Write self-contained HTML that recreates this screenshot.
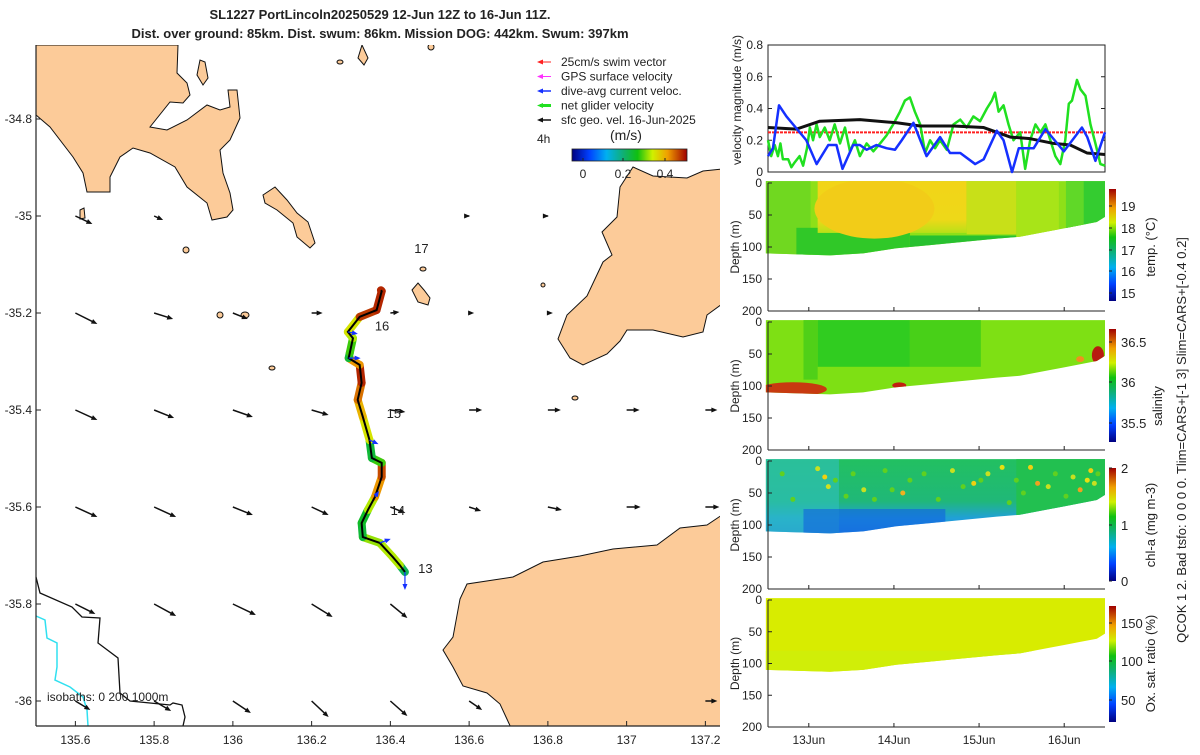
<!DOCTYPE html>
<html><head><meta charset="utf-8">
<style>
body{margin:0;background:#fff;}
svg text{font-family:"Liberation Sans",sans-serif;fill:#222;}
</style></head>
<body>
<svg id="c" width="1200" height="750" xmlns="http://www.w3.org/2000/svg">
<defs>
<linearGradient id="jetv" x1="0" y1="1" x2="0" y2="0">
<stop offset="0" stop-color="#000080"/><stop offset="0.15" stop-color="#0040ff"/><stop offset="0.3" stop-color="#00b0f0"/><stop offset="0.45" stop-color="#10b070"/><stop offset="0.57" stop-color="#10c010"/><stop offset="0.7" stop-color="#d0f000"/><stop offset="0.83" stop-color="#f0a000"/><stop offset="1" stop-color="#a00000"/>
</linearGradient>
<linearGradient id="jeth" x1="0" y1="0" x2="1" y2="0">
<stop offset="0" stop-color="#000080"/><stop offset="0.15" stop-color="#0040ff"/><stop offset="0.3" stop-color="#00b0f0"/><stop offset="0.45" stop-color="#10b070"/><stop offset="0.57" stop-color="#10c010"/><stop offset="0.7" stop-color="#d0f000"/><stop offset="0.83" stop-color="#f0a000"/><stop offset="1" stop-color="#a00000"/>
</linearGradient>
<linearGradient id="tempYel" x1="0" y1="0" x2="0" y2="1">
<stop offset="0" stop-color="#f2d418"/><stop offset="0.75" stop-color="#eed818"/><stop offset="1" stop-color="#b8e018"/>
</linearGradient>
<linearGradient id="chlGrad" x1="0" y1="0" x2="0" y2="1">
<stop offset="0" stop-color="#22c060"/><stop offset="0.5" stop-color="#20b878"/><stop offset="0.7" stop-color="#20a0d8"/><stop offset="1" stop-color="#1e78e8"/>
</linearGradient>
<clipPath id="mapclip"><rect x="36" y="45" width="684" height="681"/></clipPath>
</defs>
<text x="380" y="19" text-anchor="middle" font-size="13" font-weight="bold">SL1227 PortLincoln20250529 12-Jun 12Z to 16-Jun 11Z.</text>
<text x="380" y="38" text-anchor="middle" font-size="13" font-weight="bold">Dist. over ground: 85km. Dist. swum: 86km. Mission DOG: 442km. Swum: 397km</text>
<g id="map"></g>
<g id="vel"></g>
<g id="sec"></g>
</svg>
<script>
const NS="http://www.w3.org/2000/svg";
// ---------- data ----------
const lonTicks=[135.6,135.8,136,136.2,136.4,136.6,136.8,137,137.2];
const latTicks=[-34.8,-35,-35.2,-35.4,-35.6,-35.8,-36];
const arrowLons=[135.6,135.8,136.0,136.2,136.4,136.6,136.8,137.0,137.2];
const arrowLats=[-35,-35.2,-35.4,-35.6,-35.8,-36];
const arrowU=[[17,9,0,0,0,1,1,0,0],[22,19,15,11,9,5,5,0,0],[22,20,20,17,15,13,13,13,12],[22,22,20,17,15,12,14,14,14],[20,22,23,21,17,0,0,0,0],[15,17,18,17,17,13,0,0,12]];
const arrowV=[[8,4,0,0,0,0,0,0,0],[11,6,6,0,-1,0,0,0,0],[10,8,7,5,2,0,0,0,0],[10,10,8,8,6,4,3,0,0],[10,12,11,13,14,0,0,0,0],[9,10,12,16,15,9,0,0,0]];
const trackLon=[136.437,136.424,136.406,136.373,136.330,136.327,136.343,136.361,136.378,136.378,136.353,136.347,136.330,136.317,136.327,136.322,136.294,136.297,136.305,136.292,136.322,136.365,136.378,136.376];
const trackLat=[-35.734,-35.720,-35.703,-35.674,-35.662,-35.633,-35.606,-35.579,-35.538,-35.509,-35.499,-35.462,-35.414,-35.379,-35.344,-35.307,-35.293,-35.282,-35.252,-35.239,-35.208,-35.194,-35.155,-35.153];
const trackSpd=[0.24,0.34,0.34,0.33,0.26,0.27,0.34,0.42,0.46,0.3,0.26,0.36,0.4,0.44,0.48,0.42,0.26,0.3,0.34,0.36,0.47,0.48,0.48,0.22];
const dayLabels=["13","14","15","16","17"];
const dayLon=[136.44,136.37,136.36,136.33,136.43];
const dayLat=[-35.73,-35.61,-35.41,-35.23,-35.07];
// velocity panel
const velTicks=[0,0.2,0.4,0.6,0.8];
const blueH=[0,1.4,3.1,5.2,10.8,13.7,17,19.3,21,24,25.9,27.8,30.6,33.4,35.8,37.7,41,44.7,48.5,51.3,54.2,58.4,60.8,64.5,66.4,68.8,70.7,73,74.9,78.2,83.4,88.5,90,92.3,95];
const blueV=[0.1,0.15,0.42,0.35,0.2,0.05,0.17,0.17,0.02,0.17,0.17,0.14,0.17,0.15,0.14,0.2,0.31,0.1,0.22,0.12,0.12,0.05,0.08,0.26,0.2,0.0,0.15,0.15,0.15,0.27,0.13,0.28,0.22,0.07,0.25];
const greenH=[0,0.9,1.9,2.8,3.5,4.2,5.7,6.6,7.5,8.9,9.9,11,11.8,12.7,13.7,14.6,16,17.4,18.8,20.3,21.7,23.1,24.5,25.9,27.8,29.7,31.6,33.4,35.3,37.2,38.6,40,41.4,42.9,44.3,45.7,47.1,48.5,50.4,52.3,54.2,56,57.9,59.8,61.7,63.1,64,65,66.4,67.8,69.2,71.1,72.5,73.9,75.4,76.8,78.2,79.6,81,82.4,83.8,84.8,85.7,87.1,88.1,89.5,90.9,92.3,93.7,95];
const greenV=[0.2,0.1,0.17,0.1,0.18,0.08,0.08,0.03,0.06,0.1,0.04,0.15,0.28,0.2,0.3,0.22,0.28,0.2,0.3,0.18,0.28,0.13,0.2,0.1,0.18,0.13,0.18,0.23,0.3,0.38,0.45,0.47,0.38,0.3,0.12,0.2,0.15,0.2,0.14,0.3,0.33,0.28,0.35,0.32,0.4,0.45,0.5,0.38,0.42,0.3,0.2,0.25,0.02,0.2,0.3,0.25,0.3,0.2,0.1,0.05,0.2,0.43,0.45,0.58,0.52,0.48,0.3,0.18,0.05,0.04];
const blackH=[0,8,14.6,25.9,36.3,42.9,52.3,60.8,68.3,73.9,80.5,85.2,89.9,95];
const blackV=[0.28,0.27,0.32,0.33,0.31,0.29,0.29,0.28,0.22,0.21,0.18,0.17,0.12,0.11];
const swimV=0.25;
// sections
const dayTickH=[11.5,35.5,59.5,83.5];
const dayTickLbl=["13Jun","14Jun","15Jun","16Jun"];
const depthTicks=[0,50,100,150,200];
const bottomH=[-0.6,17.5,26.8,36.2,45.7,55.1,64.5,71,78.6,83.3,88,92.7,95];
const bottomD=[110,113,110,102,97,92,87,84,76,71,66,61,53];
const chlDotH=[4,14,16,17,19,24,27,30,33,38,40,44,52,55,58,62,66,70,72,74,76,79,81,84,86,88,90,91,92,93,7,22,35,48,60,68];
const chlDotD=[20,12,25,40,30,20,45,60,15,50,30,20,15,40,35,20,10,30,50,10,35,40,20,55,25,45,30,15,35,20,60,55,45,60,30,65];
const chlDotC=["#60d020","#c8e020","#f0d010","#d0e020","#60d020","#60d020","#c8e020","#60d020","#60d020","#f0b020","#60d020","#60d020","#c8e020","#60d020","#f0d010","#c8e020","#e8e010","#60d020","#60d020","#f0d010","#f0a020","#c8e020","#60d020","#60d020","#c8e020","#f0a020","#e8e010","#f0d010","#c8e020","#60d020","#60d020","#60d020","#60d020","#60d020","#60d020","#60d020"];

// ---------- helpers ----------
function el(tag,attrs,parent){const e=document.createElementNS(NS,tag);for(const k in attrs)e.setAttribute(k,attrs[k]);parent.appendChild(e);return e;}
function txt(s,x,y,fs,anchor,parent){const t=el('text',{x:x,y:y,'font-size':fs,'text-anchor':anchor||'start'},parent);t.textContent=s;return t;}
const lonX=l=>36+(l-135.5)*393.75;
const latY=l=>604+(-35.8-l)*485;
function jet(v){const st=[[0,[0,0,128]],[0.15,[0,64,255]],[0.3,[0,176,240]],[0.45,[16,176,112]],[0.57,[16,192,16]],[0.7,[208,240,0]],[0.83,[240,160,0]],[1,[160,0,0]]];v=Math.max(0,Math.min(1,v));for(let i=1;i<st.length;i++){if(v<=st[i][0]){const a=st[i-1],b=st[i];const f=(v-a[0])/(b[0]-a[0]);return 'rgb('+a[1].map((c,j)=>Math.round(c+(b[1][j]-c)*f)).join(',')+')';}}return 'rgb(160,0,0)';}

// ---------- map ----------
const map=document.getElementById('map');
const land=el('g',{'clip-path':'url(#mapclip)'},map);


const polys=[
"36,45 178,45 177,73 187,83 190,95 183,103 170,102 150,127 167,130 187,120 207,105 220,110 230,107 228,90 237,90 240,118 230,140 220,150 223,173 230,193 233,210 227,217 212,220 207,203 187,187 175,167 150,153 133,148 120,157 110,177 110,192 87,192 83,173 73,157 50,127 36,115",
"263,195 275,187 287,200 297,213 308,222 315,243 310,248 297,237 293,223 277,210 265,203",
"633,167 653,176 687,178 703,171 722,169 722,304 707,315 703,332 683,337 653,330 627,330 620,341 607,354 583,365 570,358 558,339 567,315 587,296 603,262 612,255 602,232 617,217 620,187",
"722,515 707,525 680,528 657,545 613,549 580,556 543,562 513,577 467,584 460,599 453,637 443,650 453,667 463,686 487,693 500,704 512,730 722,730",
"412,290 418,283 424,290 430,298 428,305 418,302",
"197,75 200,60 205,62 208,78 203,85",
"80,210 84,208 85,218 80,219",
"362,45 368,58 364,65 358,58"
];
polys.forEach((p,i)=>{const e=el('polygon',{points:p,fill:'#fccb99',stroke:'#111','stroke-width':1},land);});
[[340,62,3,2],[245,315,4,3],[220,315,3,3],[272,368,3,2],[575,398,3,2],[423,269,3,2],[543,285,2,2],[186,250,3,3],[431,47,3,3]].forEach(c=>{el('ellipse',{cx:c[0],cy:c[1],rx:c[2],ry:c[3],fill:'#fccb99',stroke:'#111','stroke-width':1},land);});
const iso200=el('polyline',{points:"36,577 40,593 72,607 82,617 100,618 98,643 118,658 120,693 130,701 150,703 170,705 173,703 182,705 185,717 183,726",fill:'none',stroke:'#111','stroke-width':1.3},map);


const iso1000=el('polyline',{points:"36,616 45,620 47,638 57,643 57,667 55,680 70,687 83,697 87,710 88,726",fill:'none',stroke:'#30e0f0','stroke-width':1.5},map);


function arrow(x1,y1,dx,dy,col,w,parent,name){const g=el('g',{},parent);const L=Math.hypot(dx,dy);if(L<0.5){el('circle',{cx:x1,cy:y1,r:1.2,fill:col},g);return g;}const ux=dx/L,uy=dy/L;const x2=x1+dx,y2=y1+dy;el('line',{x1:x1,y1:y1,x2:x2-ux*3,y2:y2-uy*3,stroke:col,'stroke-width':w},g);el('polygon',{points:`${x2},${y2} ${x2-ux*6-uy*2.5},${y2-uy*6+ux*2.5} ${x2-ux*6+uy*2.5},${y2-uy*6-ux*2.5}`,fill:col},g);return g;}
arrowLats.forEach((la,r)=>arrowLons.forEach((lo,c)=>{const u=arrowU[r][c],v=arrowV[r][c];if(u===0&&v===0)return;arrow(lonX(lo),latY(la),u,v,'#111',1.5,map,'current-arrow');}));
// track
for(let i=0;i<trackLon.length-1;i++){const s=el('line',{x1:lonX(trackLon[i]),y1:latY(trackLat[i]),x2:lonX(trackLon[i+1]),y2:latY(trackLat[i+1]),stroke:jet(trackSpd[i]/0.5),'stroke-width':8,'stroke-linecap':'round'},map);}
const tl=el('polyline',{points:trackLon.map((l,i)=>lonX(l)+','+latY(trackLat[i])).join(' '),fill:'none',stroke:'#000','stroke-width':2},map);


[[0,0,18],[3,11,-4],[11,9,4],[7,4,-6],[16,12,0],[19,10,2]].forEach(a=>{arrow(lonX(trackLon[a[0]]),latY(trackLat[a[0]]),a[1],a[2],'#1530ff',1.2,map,'dive-avg-current-arrow');});
dayLabels.forEach((d,i)=>{const t=txt(d,lonX(dayLon[i])+12,latY(dayLat[i])+3,13,'start',map);});
el('line',{x1:36,y1:45,x2:36,y2:726,stroke:'#222','stroke-width':1.2},map);
el('line',{x1:36,y1:726,x2:720,y2:726,stroke:'#222','stroke-width':1.2},map);
lonTicks.forEach(l=>{const x=lonX(l);el('line',{x1:x,y1:726,x2:x,y2:721,stroke:'#222'},map);const t=txt(String(l),x,744,12,'middle',map);});
latTicks.forEach(l=>{const y=latY(l);el('line',{x1:36,y1:y,x2:41,y2:y,stroke:'#222'},map);const t=txt(String(l),32,y+4,12,'end',map);});
const iso=txt('isobaths: 0   200  1000m',47,701,12,'start',map);
// legend
const leg=el('g',{},map);
const legItems=[["25cm/s swim vector","#ff2020",1],["GPS surface velocity","#ff30ff",1],["dive-avg current veloc.","#1530ff",1.5],["net glider velocity","#20e020",3],["sfc geo. vel. 16-Jun-2025","#111",1.5]];
legItems.forEach((it,i)=>{const y=62+i*14.5;arrow(551,y,-14,0,it[1],it[2],leg,'legend-entry-'+i);const t=txt(it[0],561,y+4,12,'start',leg);});
txt('4h',537,143,12,'start',leg);
txt('(m/s)',610,140,14,'start',leg);
el('rect',{x:572,y:149,width:115,height:12,fill:'url(#jeth)',stroke:'#222','stroke-width':0.8},leg);
[[0,583],[0.2,623],[0.4,665]].forEach(t=>{el('line',{x1:t[1],y1:161,x2:t[1],y2:158,stroke:'#222'},leg);txt(String(t[0]),t[1],178,12,'middle',leg);});

// ---------- velocity panel ----------
const vel=document.getElementById('vel');
const VX0=768,VX1=1105,VY0=172,VY1=45;
const hx=h=>VX0+h*(VX1-VX0)/95;
const vy=v=>VY0-v*(VY0-VY1)/0.8;
el('rect',{x:VX0,y:VY1,width:VX1-VX0,height:VY0-VY1,fill:'#fff',stroke:'#222','stroke-width':1},vel);
velTicks.forEach(v=>{el('line',{x1:VX0,y1:vy(v),x2:VX0+4,y2:vy(v),stroke:'#222'},vel);el('line',{x1:VX1,y1:vy(v),x2:VX1-4,y2:vy(v),stroke:'#222'},vel);const t=txt(String(v),763,vy(v)+4,12,'end',vel);});
const vlab=txt('velocity magnitude (m/s)',0,0,12,'middle',vel);vlab.setAttribute('transform','translate(741,100) rotate(-90)');
function series(H,V,col,w,name){const p=el('polyline',{points:H.map((h,i)=>hx(h)+','+vy(V[i])).join(' '),fill:'none',stroke:col,'stroke-width':w,'stroke-linejoin':'round'},vel);}
const sw=el('line',{x1:VX0,y1:vy(swimV),x2:VX1,y2:vy(swimV),stroke:'#ff2020','stroke-width':2,'stroke-dasharray':'3,1'},vel);
series(greenH,greenV,'#20e020',2.5,'net-glider-velocity-line');
series(blackH,blackV,'#111',3,'geostrophic-velocity-line');
series(blueH,blueV,'#1530ff',2.5,'dive-avg-current-line');

// ---------- sections ----------
const sec=document.getElementById('sec');
const panels=[
 {y0:183,y1:311,name:'temperature',cb:[189,301],lab:'temp. (°C)',ticks:[[19,206],[18,228],[17,250],[16,271],[15,293]]},
 {y0:322,y1:450,name:'salinity',cb:[329,442],lab:'salinity',ticks:[[36.5,342],[36,382],[35.5,423]]},
 {y0:461,y1:589,name:'chlorophyll',cb:[468,581],lab:'chl-a (mg m-3)',ticks:[[2,468],[1,525],[0,581]]},
 {y0:600,y1:727,name:'oxygen',cb:[606,722],lab:'Ox. sat. ratio (%)',ticks:[[150,623],[100,661],[50,700]]}
];
panels.forEach((P,pi)=>{
 const g=el('g',{},sec);
 const dy=d=>P.y0+d*(P.y1-P.y0)/200;
 const cid='clip'+pi;
 const cp=el('clipPath',{id:cid},g);
 el('polygon',{points:`${hx(-0.6)},${dy(-3)} ${hx(95)},${dy(-3)} `+bottomH.slice().reverse().map((h,i)=>hx(h)+','+dy(bottomD[bottomD.length-1-i])).join(' ')},cp);
 const d=el('g',{'clip-path':`url(#${cid})`},g);
 const R=(h0,h1,d0,d1,fill,op)=>el('rect',{x:hx(h0),y:dy(d0),width:hx(h1)-hx(h0),height:dy(d1)-dy(d0),fill:fill,opacity:op||1},d);
 const E=(h,dd,rx,ry,fill)=>el('ellipse',{cx:hx(h),cy:dy(dd),rx:rx,ry:ry,fill:fill},d);
 if(pi===0){R(-1,96,-5,130,'#8ee018');R(-1,12,-5,130,'#70d820');R(8,40,70,130,'#30c828');R(40,70,82,130,'#28c030');R(14,56,-5,78,'url(#tempYel)');E(30,40,60,30,'#f2cc18');R(56,70,-5,80,'#c8e018');R(70,82,-5,90,'#a8e418');R(84,96,-5,130,'#34cc30');R(84,89,-5,130,'#60d828');}
 if(pi===1){R(-1,96,-5,130,'#7ee014');R(14,40,-5,70,'#30cc20');R(10,14,-5,90,'#50d018');R(40,60,-5,70,'#48d018');E(7,105,34,7,'#c83a10');E(37,99,7,3,'#c02010');E(93,52,6,9,'#b81a10');E(88,58,4,3,'#f09020');}
 if(pi===2){R(-1,96,-5,130,'url(#chlGrad)');R(-1,20,-5,130,'#30c0c0',0.6);R(10,50,75,130,'#1060e0',0.6);R(70,96,-5,90,'#22c050');
   chlDotH.forEach((h,i)=>{const c=el('circle',{cx:hx(h),cy:dy(chlDotD[i]),r:2.5,fill:chlDotC[i]},d);});}
 if(pi===3){R(-1,96,-5,130,'#d8ec00');R(-1,96,80,130,'#d0ee08');}
 el('line',{x1:VX0,y1:P.y0,x2:VX0,y2:P.y1,stroke:'#222'},g);
 el('line',{x1:VX0,y1:P.y1,x2:VX1,y2:P.y1,stroke:'#222'},g);
 depthTicks.forEach(t=>{el('line',{x1:VX0,y1:dy(t),x2:VX0+4,y2:dy(t),stroke:'#222'},g);const tt=txt(String(t),762,dy(t)+4,12,'end',g);});
 dayTickH.forEach(h=>{el('line',{x1:hx(h),y1:P.y1,x2:hx(h),y2:P.y1-4,stroke:'#222'},g);});
 const yl=txt('Depth (m)',0,0,12,'middle',g);yl.setAttribute('transform',`translate(739,${dy(100)}) rotate(-90)`);
 const cb=el('rect',{x:1109,y:P.cb[0],width:7,height:P.cb[1]-P.cb[0],fill:'url(#jetv)'},g);
 P.ticks.forEach(t=>{el('line',{x1:1109,y1:t[1],x2:1112,y2:t[1],stroke:'#222'},g);txt(String(t[0]),1121,t[1]+5,13,'start',g);});
 const cl=txt(P.lab,0,0,13,'middle',g);cl.setAttribute('transform',`translate(${pi===1?1162:1155},${(P.y0+P.y1)/2+(pi===1?20:0)}) rotate(-90)`);
});
dayTickLbl.forEach((l,i)=>{const t=txt(l,hx(dayTickH[i]),744,12,'middle',sec);});
const qc=txt('QCOK 1  2. Bad tsfo: 0  0  0  0. Tlim=CARS+[-1 3] Slim=CARS+[-0.4 0.2]',0,0,13,'middle',sec);
qc.setAttribute('transform','translate(1186,440) rotate(-90)');


</script>
</body></html>
